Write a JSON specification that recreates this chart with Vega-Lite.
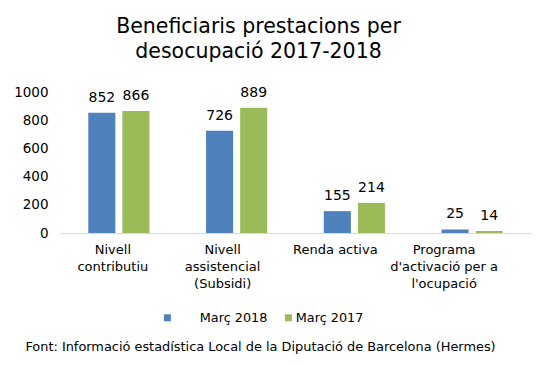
{
  "$schema": "https://vega.github.io/schema/vega-lite/v6.json",
  "width": 471,
  "height": 141,
  "autosize": {"type": "none"},
  "padding": {"left": 60, "top": 92, "right": 24, "bottom": 133},
  "background": "white",
  "config": {"view": {"stroke": null}, "font": "DejaVu Sans"},
  "title": {
    "text": ["Beneficiaris prestacions per", "desocupació 2017-2018"],
    "fontSize": 20.5,
    "font": "DejaVu Sans",
    "fontWeight": "normal",
    "color": "#000000",
    "lineHeight": 25,
    "offset": 23,
    "dx": -37,
    "anchor": "middle"
  },
  "data": {
    "values": [
      {"cat": "Nivell|contributiu", "serie": "Març 2018", "v": 852},
      {"cat": "Nivell|contributiu", "serie": "Març 2017", "v": 866},
      {"cat": "Nivell|assistencial|(Subsidi)", "serie": "Març 2018", "v": 726},
      {"cat": "Nivell|assistencial|(Subsidi)", "serie": "Març 2017", "v": 889},
      {"cat": "Renda activa", "serie": "Març 2018", "v": 155},
      {"cat": "Renda activa", "serie": "Març 2017", "v": 214},
      {"cat": "Programa|d'activació per a|l'ocupació", "serie": "Març 2018", "v": 25},
      {"cat": "Programa|d'activació per a|l'ocupació", "serie": "Març 2017", "v": 14}
    ]
  },
  "encoding": {
    "x": {
      "field": "cat",
      "type": "nominal",
      "sort": null,
      "scale": {"paddingInner": 0, "paddingOuter": 0},
      "axis": {
        "title": "Font: Informació estadística Local de la Diputació de Barcelona (Hermes)",
        "labelExpr": "split(datum.label, '|')",
        "labelAngle": 0,
        "labelFont": "DejaVu Sans",
        "labelFontSize": 13,
        "labelLineHeight": 17,
        "labelPadding": 10,
        "labelBaseline": "top",
        "labelColor": "#000000",
        "ticks": false,
        "domainColor": "#D9D9D9",
        "domainWidth": 1,
        "labelOffset": {
          "condition": [
            {"test": "datum.value === 'Nivell|contributiu'", "value": -6},
            {"test": "datum.value === 'Nivell|assistencial|(Subsidi)'", "value": -14},
            {"test": "datum.value === 'Renda activa'", "value": -19}
          ],
          "value": -28
        },
        "titleFont": "DejaVu Sans",
        "titleFontSize": 12.9,
        "titleFontWeight": "normal",
        "titleColor": "#000000",
        "titleX": 200,
        "titleY": 117,
        "titleAlign": "center",
        "titleBaseline": "alphabetic"
      }
    },
    "xOffset": {
      "field": "serie",
      "sort": ["Març 2018", "Març 2017"],
      "scale": {"paddingInner": 0.206, "paddingOuter": 0.83}
    },
    "y": {
      "field": "v",
      "type": "quantitative",
      "scale": {"domain": [0, 1000], "nice": false},
      "axis": {
        "title": null,
        "domain": false,
        "ticks": false,
        "grid": false,
        "format": "d",
        "values": [0, 200, 400, 600, 800, 1000],
        "labelFont": "DejaVu Sans",
        "labelFontSize": 13.5,
        "labelColor": "#000000",
        "labelPadding": 12
      }
    }
  },
  "layer": [
    {
      "mark": {"type": "bar"},
      "encoding": {
        "color": {
          "field": "serie",
          "type": "nominal",
          "scale": {"domain": ["Març 2018", "Març 2017"], "range": ["#4F81BD", "#9BBB59"]},
          "legend": {
            "title": null,
            "orient": "none",
            "direction": "horizontal",
            "legendX": 101,
            "legendY": 219,
            "padding": 0,
            "symbolType": "square",
            "symbolSize": 49,
            "symbolStrokeWidth": 0,
            "labelFont": "DejaVu Sans",
            "labelFontSize": 12.8,
            "labelColor": "#000000",
            "labelOffset": 1,
            "columnPadding": 14,
            "encode": {
              "labels": {"update": {"dx": {"signal": "datum.value === 'Març 2018' ? 25 : 0"}}}
            }
          }
        }
      }
    },
    {
      "mark": {"type": "text", "baseline": "bottom", "dy": -8, "fontSize": 14, "font": "DejaVu Sans", "color": "#000000"},
      "encoding": {"text": {"field": "v", "type": "quantitative"}}
    }
  ]
}
